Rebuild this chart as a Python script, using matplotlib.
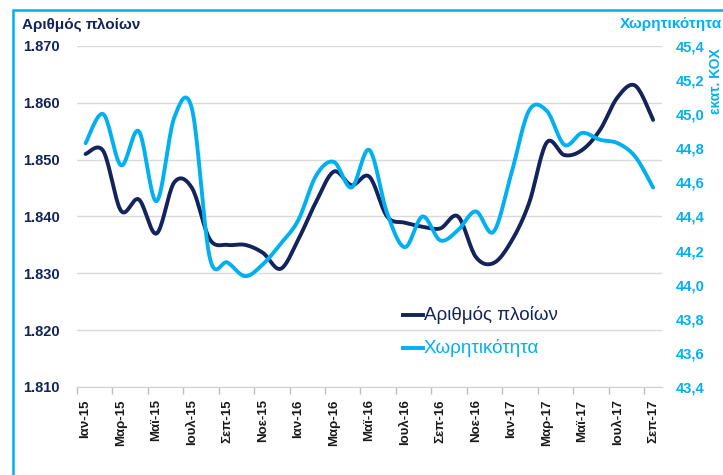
import numpy as np
import matplotlib.pyplot as plt
from matplotlib.patches import Rectangle
from matplotlib.ticker import FuncFormatter, FixedLocator

plt.rcParams['font.family'] = ['Liberation Sans', 'DejaVu Sans']

months = ['Ιαν', 'Φεβ', 'Μαρ', 'Απρ', 'Μαϊ', 'Ιουν', 'Ιουλ', 'Αυγ', 'Σεπ', 'Οκτ', 'Νοε', 'Δεκ']
labels = [m + '-' + y for y in ['15', '16', '17'] for m in months][:33]

ships = [1851, 1851.5, 1841, 1843, 1837, 1846, 1845, 1836, 1835, 1835, 1833.6,
         1830.8, 1836, 1842.6, 1847.9, 1845.5, 1847, 1840, 1838.9, 1838.2, 1837.9,
         1840, 1832.9, 1831.8, 1835.6, 1842.3, 1853, 1850.8, 1851.7, 1855.2, 1861,
         1863, 1857]
capacity = [44.83, 45.0, 44.70, 44.90, 44.49, 44.98, 45.03, 44.16, 44.13, 44.05, 44.12,
            44.24, 44.38, 44.64, 44.72, 44.57, 44.79, 44.42, 44.22, 44.40, 44.26,
            44.32, 44.43, 44.31, 44.65, 45.02, 45.02, 44.82, 44.89, 44.85, 44.83,
            44.75, 44.57]

navy = '#13235b'
blue = '#00b0f0'


def smooth(y, n=20):
    # Excel-like smoothed line (Catmull-Rom as Bezier)
    y = np.asarray(y, float)
    x = np.arange(len(y), dtype=float)
    p = np.column_stack([x, y])
    pts = [p[0]]
    for i in range(len(p) - 1):
        p0 = p[max(i - 1, 0)]
        p1 = p[i]
        p2 = p[i + 1]
        p3 = p[min(i + 2, len(p) - 1)]
        b1 = p1 + (p2 - p0) / 6
        b2 = p2 - (p3 - p1) / 6
        t = np.linspace(0, 1, n)[1:, None]
        seg = ((1 - t) ** 3) * p1 + 3 * ((1 - t) ** 2) * t * b1 + 3 * (1 - t) * t ** 2 * b2 + t ** 3 * p2
        pts.extend(seg)
    pts = np.array(pts)
    return pts[:, 0], pts[:, 1]


fig = plt.figure(figsize=(7.23, 4.75), dpi=100)
fig.patches.append(Rectangle((13 / 723, -0.1), 1.2, 0.979 + 0.1, transform=fig.transFigure,
                             fill=False, edgecolor=blue, lw=1.8))

ax = fig.add_axes([0.1061, 0.1853, 0.8095, 0.7179])
ax2 = ax.twinx()

xs, ys = smooth(ships)
ax.plot(xs, ys, color=navy, lw=2.8, solid_capstyle='round', zorder=3)
xc, yc = smooth(capacity)
ax2.plot(xc, yc, color=blue, lw=2.8, solid_capstyle='round', zorder=3)

ax.set_xlim(-0.5, 32.5)
ax.set_ylim(1810, 1870)
ax.set_yticks(range(1810, 1871, 10))
ax.yaxis.set_major_formatter(FuncFormatter(lambda v, p: f'{v:,.0f}'.replace(',', '.')))
ax.grid(axis='y', color='#d9d9d9', lw=1)
ax.set_axisbelow(True)

ax.xaxis.set_major_locator(FixedLocator(np.arange(-0.5, 32.6, 2)))
ax.xaxis.set_minor_locator(FixedLocator(range(0, 33, 2)))
ax.set_xticklabels([])
ax.set_xticklabels([labels[i] for i in range(0, 33, 2)], minor=True)
ax.tick_params(axis='x', which='major', length=5, color='#bfbfbf', width=1)
ax.tick_params(axis='x', which='minor', length=0, pad=9, labelsize=9.5, rotation=90)
for t in ax.get_xticklabels(minor=True):
    t.set_fontweight('bold')
    t.set_color('#1a1a1a')

ax.tick_params(axis='y', length=0, pad=12, labelsize=10.5, labelcolor=navy)
for t in ax.get_yticklabels():
    t.set_fontweight('bold')

for s in ['top', 'left', 'right']:
    ax.spines[s].set_visible(False)
    ax2.spines[s].set_visible(False)
ax.spines['bottom'].set_color('#d0d0d0')
ax2.spines['bottom'].set_visible(False)

ax2.set_ylim(43.4, 45.4)
ax2.set_yticks(np.arange(43.4, 45.41, 0.2))
ax2.yaxis.set_major_formatter(FuncFormatter(lambda v, p: f'{v:.1f}'.replace('.', ',')))
ax2.tick_params(axis='y', length=0, pad=10, labelsize=10.5, labelcolor=blue)
for t in ax2.get_yticklabels():
    t.set_fontweight('bold')

fig.text(22 / 723, 1 - 25 / 475, 'Αριθμός πλοίων', color=navy, fontsize=11,
         fontweight='bold', ha='left', va='center')
fig.text(722 / 723, 1 - 24 / 475, 'Χωρητικότητα', color=blue, fontsize=11,
         fontweight='bold', ha='right', va='center')
fig.text(716 / 723, 1 - 81 / 475, 'εκατ. ΚΟΧ', color=blue, fontsize=10,
         fontweight='bold', ha='center', va='center', rotation=90)

# legend
fig.lines.append(plt.Line2D([403 / 723, 423 / 723], [1 - 315 / 475] * 2, color=navy, lw=2.8,
                            transform=fig.transFigure))
fig.lines.append(plt.Line2D([403 / 723, 423 / 723], [1 - 348 / 475] * 2, color=blue, lw=2.8,
                            transform=fig.transFigure))
fig.text(424 / 723, 1 - 315 / 475, 'Αριθμός πλοίων', color=navy, fontsize=13.5,
         ha='left', va='center')
fig.text(424 / 723, 1 - 348 / 475, 'Χωρητικότητα', color=blue, fontsize=13.5,
         ha='left', va='center')

fig.savefig('out.png', dpi=100)
